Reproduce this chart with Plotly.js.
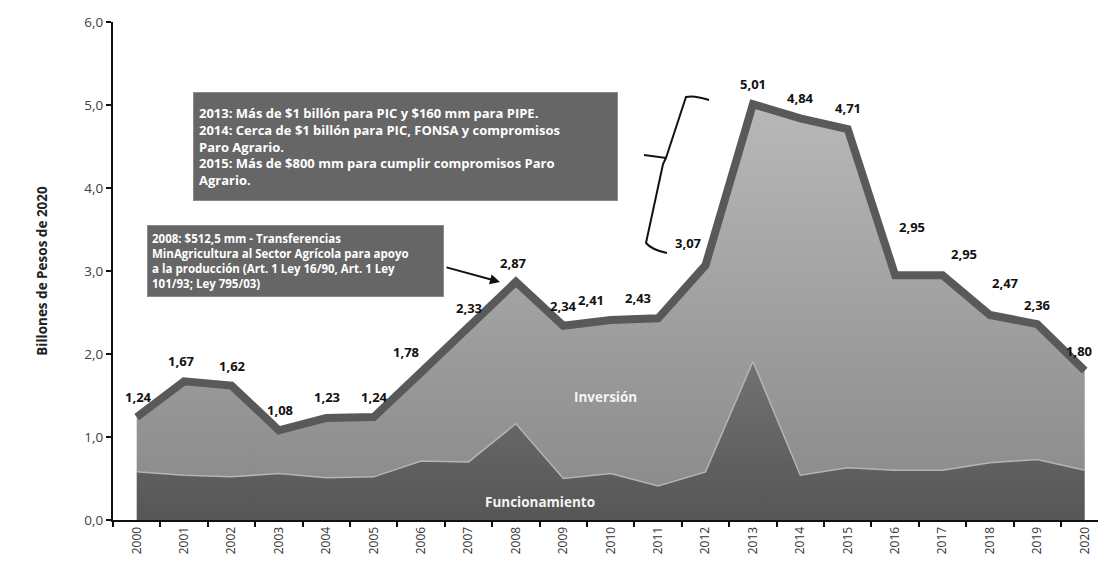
<!DOCTYPE html>
<html>
<head>
<meta charset="utf-8">
<script src="https://cdn.plot.ly/plotly-3.0.1.min.js"></script>
<style>html,body{margin:0;padding:0;background:#fff;}#chart{width:1098px;height:564px;}</style>
</head>
<body>
<div id="chart"></div>
<script>
// ---- data ----
const years = ["2000","2001","2002","2003","2004","2005","2006","2007","2008","2009","2010",
               "2011","2012","2013","2014","2015","2016","2017","2018","2019","2020"];
const total = [1.24,1.67,1.62,1.08,1.23,1.24,1.78,2.33,2.87,2.34,2.41,
               2.43,3.07,5.01,4.84,4.71,2.95,2.95,2.47,2.36,1.80];
const funcionamiento = [0.58,0.54,0.52,0.56,0.51,0.52,0.71,0.70,1.16,0.50,0.56,
                        0.41,0.58,1.91,0.54,0.63,0.60,0.60,0.69,0.73,0.60];
const yTicks = [0,1,2,3,4,5,6];
const seriesNames = ["Funcionamiento","Inversión"];
const yTitle = "Billones de Pesos de 2020";
const note2013 = "2013: Más de $1 billón para PIC y $160 mm para PIPE.<br>2014: Cerca de $1 billón para PIC, FONSA y compromisos<br>Paro Agrario.<br>2015: Más de $800 mm para cumplir compromisos Paro<br>Agrario.";
const note2008 = "2008: $512,5 mm - Transferencias<br>MinAgricultura al Sector Agrícola para apoyo<br>a la producción (Art. 1 Ley 16/90, Art. 1 Ley<br>101/93; Ley 795/03)";

// label offsets (pixels: dx right, dy up) — layout only
const labelDx = [2,-3,1,1,1,1,-15,0,-2,0,-20,-20,-17,0,0,0,17,21,16,0,-6];
const labelDy = [20,20,20,20,21,20,20,19,19,20,20,20,22,20,20,21,48,21,32,19,20];

const FONT = "'Open Sans', 'DejaVu Sans', sans-serif";

const traces = [
  {
    x: years, y: funcionamiento, type: 'scatter', mode: 'lines',
    name: seriesNames[0], fill: 'tozeroy',
    fillgradient: {type: 'vertical', colorscale: [[0,'#565656'],[1,'#727272']]},
    fillcolor: '#666666',
    line: {color: '#b4b4b4', width: 1.5}, hoverinfo: 'skip', showlegend: false
  },
  {
    x: years, y: total, type: 'scatter', mode: 'lines',
    name: seriesNames[1], fill: 'tonexty',
    fillgradient: {type: 'vertical', colorscale: [[0,'#8c8c8c'],[1,'#b8b8b8']]},
    fillcolor: '#9a9a9a',
    line: {color: '#595959', width: 8}, hoverinfo: 'skip', showlegend: false
  }
];

const annotations = total.map((v, i) => ({
  x: i, y: v, xref: 'x', yref: 'y', showarrow: false,
  text: '<b>' + v.toFixed(2).replace('.', ',') + '</b>',
  font: {family: FONT, size: 13, color: '#111'},
  xshift: labelDx[i], yshift: labelDy[i]
}));

annotations.push(
  {x: 9.9, y: 1.48, xref: 'x', yref: 'y', showarrow: false, text: '<b>' + seriesNames[1] + '</b>',
   font: {family: FONT, size: 13.5, color: '#f4f4f4'}},
  {x: 8.5, y: 0.22, xref: 'x', yref: 'y', showarrow: false, text: '<b>' + seriesNames[0] + '</b>',
   font: {family: FONT, size: 13.5, color: '#f4f4f4'}},
  {x: (193-113)/985, y: (520-92)/498, xref: 'paper', yref: 'paper', xanchor: 'left', yanchor: 'top',
   showarrow: false, text: '<b>' + note2013 + '</b>', align: 'left', valign: 'middle',
   width: 413, height: 97, bgcolor: '#666666', bordercolor: '#8a8a8a', borderwidth: 1, borderpad: 5,
   font: {family: FONT, size: 13, color: '#ffffff'}},
  {x: (147-113)/985, y: (520-225)/498, xref: 'paper', yref: 'paper', xanchor: 'left', yanchor: 'top',
   showarrow: false, text: '<b>' + note2008 + '</b>', align: 'left', valign: 'middle',
   width: 287, height: 62, bgcolor: '#666666', bordercolor: '#8a8a8a', borderwidth: 1, borderpad: 4,
   font: {family: FONT, size: 11.5, color: '#ffffff'}},
  {x: (500-113)/985, y: (520-282)/498, xref: 'paper', yref: 'paper', showarrow: true,
   ax: -55, ay: -15, arrowhead: 2, arrowsize: 1, arrowwidth: 2, arrowcolor: '#111', text: ''}
);

function px(xp){ return ((xp-113)/985).toFixed(4); }
function py(yp){ return ((520-yp)/498).toFixed(4); }
const bracePath = 'M ' + px(709) + ',' + py(100) +
  ' Q ' + px(694) + ',' + py(95) + ' ' + px(686) + ',' + py(97) +
  ' L ' + px(666) + ',' + py(158) +
  ' L ' + px(644) + ',' + py(155) +
  ' M ' + px(666) + ',' + py(158) +
  ' L ' + px(663) + ',' + py(164) +
  ' L ' + px(646) + ',' + py(243) +
  ' Q ' + px(652) + ',' + py(250) + ' ' + px(667) + ',' + py(253);

const layout = {
  width: 1098, height: 564,
  margin: {l: 113, r: 0, t: 22, b: 44},
  paper_bgcolor: '#ffffff', plot_bgcolor: '#ffffff',
  separators: ',.',
  showlegend: false,
  font: {family: FONT},
  xaxis: {
    type: 'category', range: [-0.5, 20.28], showgrid: false, zeroline: false,
    showline: true, linecolor: '#111', linewidth: 2,
    ticks: 'outside', tickson: 'boundaries', ticklen: 5, tickwidth: 2, tickcolor: '#111',
    tickangle: -90, tickfont: {family: FONT, size: 12, color: '#333'}, automargin: false
  },
  yaxis: {
    range: [0, 6], tickvals: yTicks, tickformat: '.1f', showgrid: false, zeroline: false,
    showline: true, linecolor: '#111', linewidth: 2,
    ticks: 'outside', ticklen: 5, tickwidth: 2, tickcolor: '#111',
    tickfont: {family: FONT, size: 13.5, color: '#404040'}, automargin: false,
    title: {text: '<b>' + yTitle + '</b>', font: {family: FONT, size: 13.5, color: '#222'}, standoff: 34}
  },
  annotations: annotations,
  shapes: [{type: 'path', xref: 'paper', yref: 'paper', path: bracePath,
            line: {color: '#111', width: 2}}]
};

Plotly.newPlot('chart', traces, layout, {staticPlot: true, displayModeBar: false});
</script>
</body>
</html>
